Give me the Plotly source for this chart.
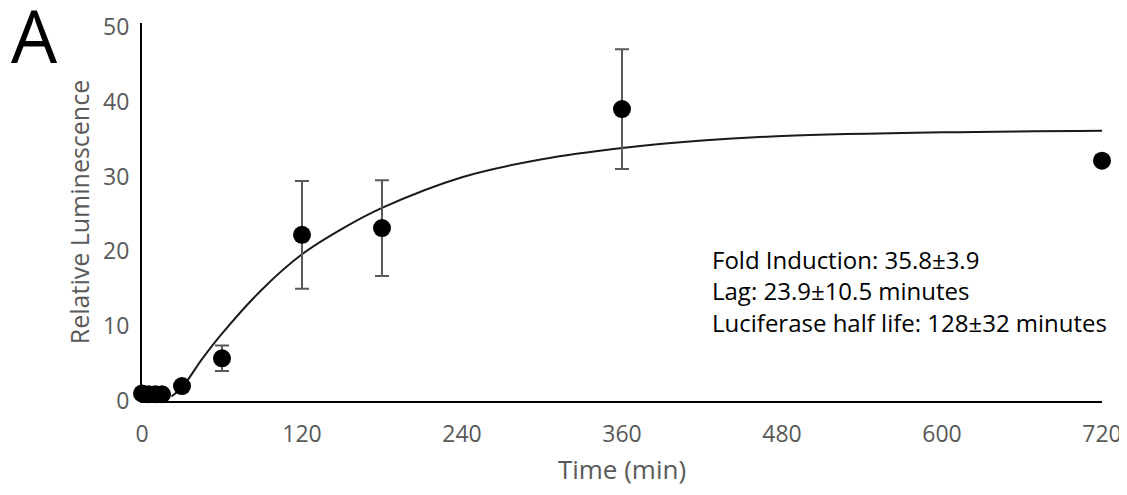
import plotly.graph_objects as go

# Measured data points
time_min = [0, 5, 10, 15, 30, 60, 120, 180, 360, 720]
luminescence = [1.0, 0.9, 0.9, 0.9, 2.0, 5.7, 22.2, 23.1, 39.0, 32.1]
error = [0, 0, 0, 0, 0, 1.7, 7.2, 6.4, 8.0, 0]

# Fitted curve
curve_t = [22, 30, 45, 60, 90, 120, 150, 180, 240, 300, 360, 420, 480, 600, 720]
curve_y = [0.6, 1.8, 5.6, 9.0, 14.9, 19.6, 23.0, 25.8, 29.9, 32.3, 33.8, 34.8, 35.4, 35.9, 36.1]

x_ticks = [0, 120, 240, 360, 480, 600, 720]
y_ticks = [0, 10, 20, 30, 40, 50]

notes = ["Fold Induction: 35.8±3.9",
         "Lag: 23.9±10.5 minutes",
         "Luciferase half life: 128±32 minutes"]
note_y = [18.9, 14.7, 10.55]

FONT = "Open Sans"
GREY = "#595959"

fig = go.Figure()
fig.add_trace(go.Scatter(
    x=curve_t, y=curve_y, mode="lines",
    line=dict(color="#1a1a1a", width=2, shape="spline"),
    hoverinfo="skip", showlegend=False))
fig.add_trace(go.Scatter(
    x=time_min, y=luminescence, mode="markers",
    marker=dict(color="black", size=18),
    error_y=dict(type="data", array=error, visible=True, color=GREY,
                 thickness=2, width=7),
    cliponaxis=False, showlegend=False))

for txt, yy in zip(notes, note_y):
    fig.add_annotation(x=426, y=yy, xref="x", yref="y", text=txt,
                       showarrow=False, xanchor="left", yanchor="middle",
                       font=dict(family=FONT, size=24, color="black"))

fig.add_annotation(x=-0.139, y=0.97, xref="paper", yref="paper", text="A",
                   showarrow=False, xanchor="left", yanchor="middle",
                   font=dict(family=FONT, size=73, color="black"))

# page body has an 8px margin: figure is offset by 8px to the right/bottom
fig.update_layout(
    width=1119, height=487,
    margin=dict(l=134, r=25, t=15, b=94),
    plot_bgcolor="white", paper_bgcolor="white",
    font=dict(family=FONT, size=23, color=GREY),
    xaxis=dict(range=[0, 720], tickvals=x_ticks, showgrid=False,
               zeroline=False, showline=True, linecolor="black",
               linewidth=2, ticks="", ticklabelstandoff=11,
               ticklabeloverflow="allow", automargin=False,
               tickfont=dict(size=23, color=GREY),
               title=dict(text="Time (min)", standoff=13,
                          font=dict(size=26, color=GREY))),
    yaxis=dict(range=[0, 50.5], tickvals=y_ticks, showgrid=False,
               zeroline=False, showline=True, linecolor="black",
               linewidth=2, ticks="", ticklabelstandoff=6,
               ticklabeloverflow="allow", automargin=False,
               tickfont=dict(size=23, color=GREY),
               title=dict(text="Relative Luminescence", standoff=6,
                          font=dict(size=25, color=GREY))),
)

fig.write_html("out.html")
